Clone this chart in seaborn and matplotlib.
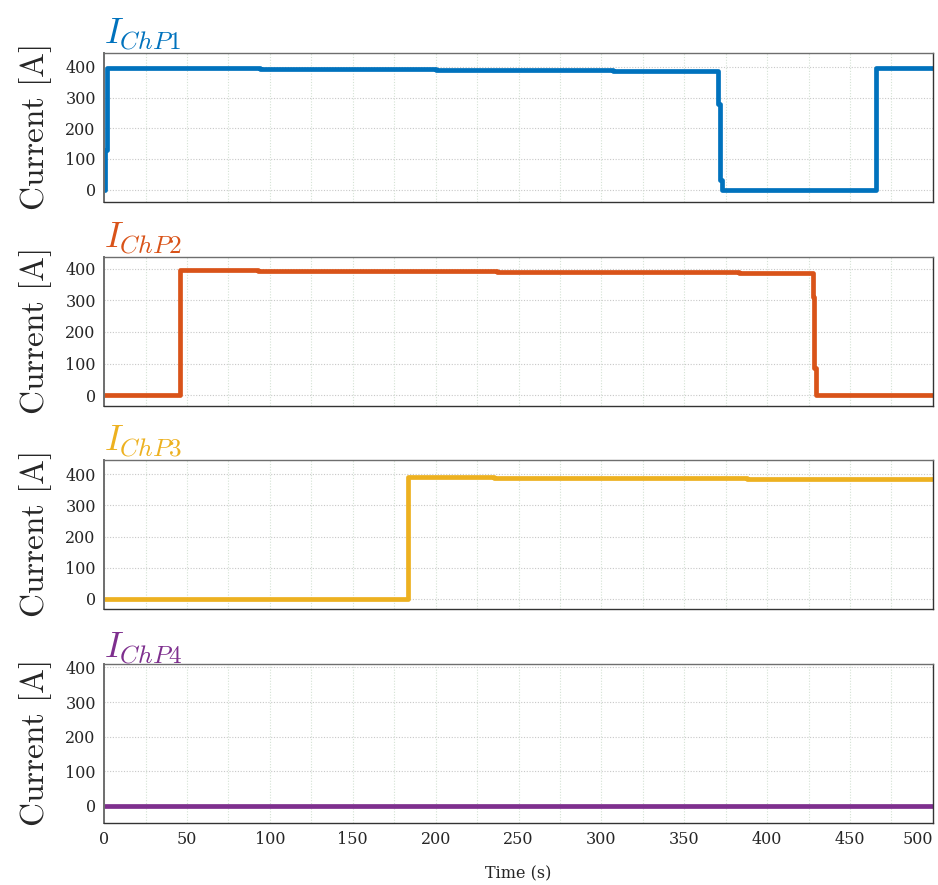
import numpy as np
import pandas as pd
import matplotlib
matplotlib.use("Agg")
import matplotlib.pyplot as plt
from matplotlib.ticker import MultipleLocator
import seaborn as sns

sns.set_theme(style="white")
plt.rcParams["font.family"] = ["DejaVu Serif"]
plt.rcParams["mathtext.fontset"] = "cm"

# Charging-point currents: step change times (s) and levels (A)
t_chp1 = [0, 0.5, 1.5, 94, 200, 307, 370.5, 371.5, 372.5, 465.5, 500]
i_chp1 = [0, 130, 395, 392, 390, 388, 280, 30, 0, 398, 398]

t_chp2 = [0, 46, 93, 237, 383, 427.5, 428.5, 429.5, 500]
i_chp2 = [0, 397, 392, 389, 386, 310, 85, 0, 0]

t_chp3 = [0, 183.6, 235, 388, 500]
i_chp3 = [0, 390, 388, 385, 385]

t_chp4 = [0, 500]
i_chp4 = [0, 0]

names = ["ChP1", "ChP2", "ChP3", "ChP4"]
colors = ["#0072BD", "#D95319", "#EDB120", "#7E2F8E"]
series = [(t_chp1, i_chp1), (t_chp2, i_chp2), (t_chp3, i_chp3), (t_chp4, i_chp4)]
ylims = [(-40, 445), (-35, 438), (-32, 445), (-50, 410)]

x_ticks = list(range(0, 501, 50))
y_ticks = [0, 100, 200, 300, 400]

fig = plt.figure(figsize=(9.38, 8.85), dpi=100)
left, width = 0.111, 0.8836
boxes = [(0.772, 0.168), (0.5412, 0.1684), (0.3119, 0.1683), (0.0701, 0.1796)]

for k, (name, col, (tt, ii), yl, (b, h)) in enumerate(zip(names, colors, series, ylims, boxes)):
    ax = fig.add_axes([left, b, width, h])
    df = pd.DataFrame({"Time": tt, "Current": ii})
    sns.lineplot(data=df, x="Time", y="Current", ax=ax, color=col, lw=3.4,
                 drawstyle="steps-post", estimator=None)
    ax.set_xlim(0, 500)
    ax.set_ylim(*yl)
    ax.set_xticks(x_ticks)
    ax.xaxis.set_minor_locator(MultipleLocator(25))
    ax.set_yticks(y_ticks)
    ax.grid(True, which="major", axis="y", color="#c8c8c8", ls=(0, (1, 1.5)), lw=0.8)
    ax.grid(True, which="both", axis="x", color="#d4e2d4", ls=(0, (1, 1.5)), lw=0.8)
    ax.tick_params(axis="both", which="both", length=0, labelsize=11.5, pad=6)
    for side, sp in ax.spines.items():
        sp.set_visible(True)
        sp.set_linewidth(1.0)
        sp.set_color("#333333" if side in ("bottom", "right") else "#6e6e6e")
    ax.spines["left"].set_linewidth(1.4)
    ax.set_ylabel(r"$\mathrm{Current\ [A]}$", fontsize=24, labelpad=8)
    ax.set_title(r"$I_{%s}$" % name, loc="left", color=col, fontsize=26, pad=4)
    if k < 3:
        ax.set_xticklabels([])
        ax.set_xlabel("")
    else:
        ax.set_xlabel("Time (s)", fontsize=11.5, labelpad=12)
        # keep the final tick label inside the figure edge
        labels = ax.get_xticklabels()
        labels[-1].set_horizontalalignment("right")

fig.savefig("out.png", dpi=100)
